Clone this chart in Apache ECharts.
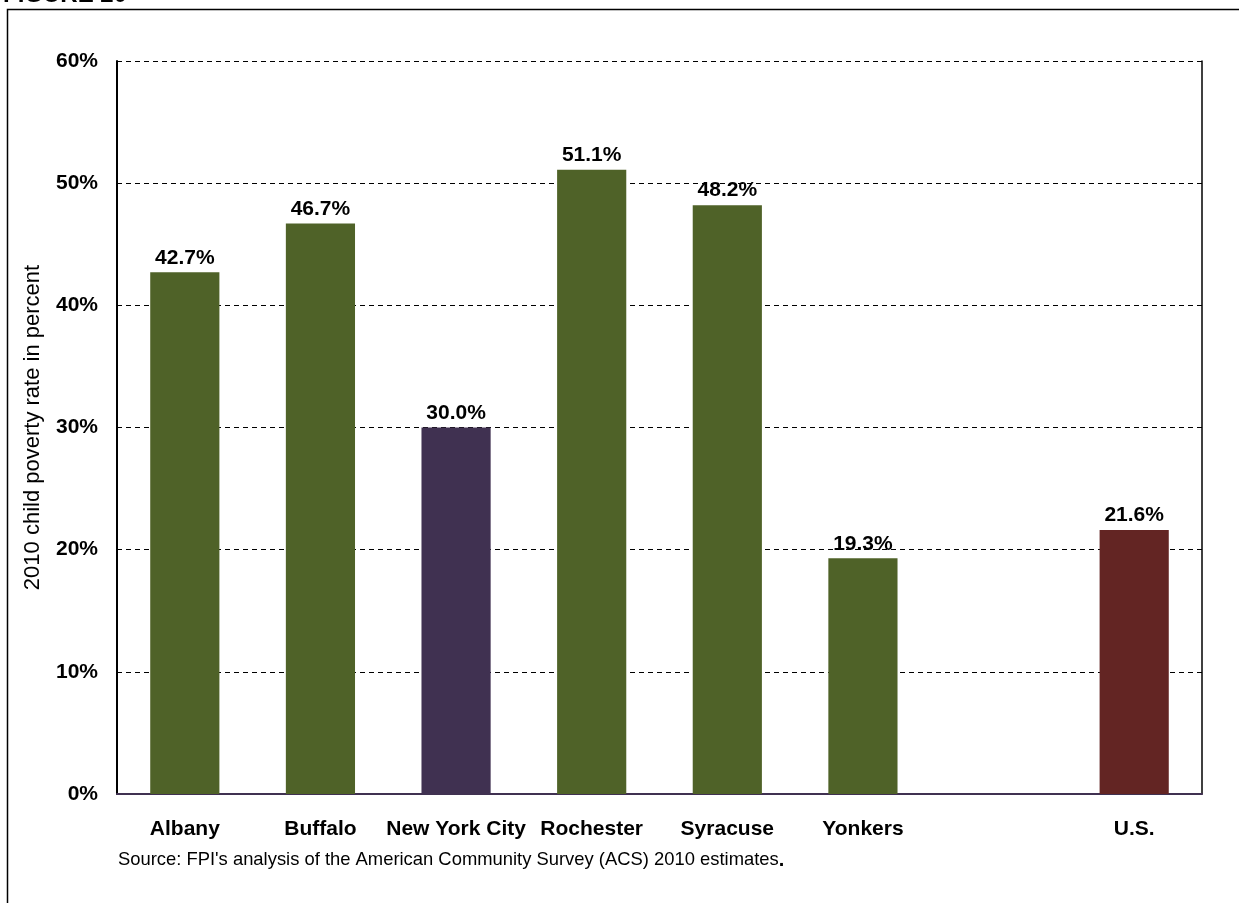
<!DOCTYPE html>
<html><head><meta charset="utf-8">
<script src="https://cdn.jsdelivr.net/npm/echarts@6/dist/echarts.min.js"></script>
<style>html,body{margin:0;padding:0;background:#fff}#c{width:1239px;height:903px}</style>
</head><body><div id="c"></div>
<script>
const categories = ['Albany','Buffalo','New York City','Rochester','Syracuse','Yonkers','','U.S.'];
const values = [42.7, 46.7, 30.0, 51.1, 48.2, 19.3, null, 21.6];
const barColors = ['#4F6228','#4F6228','#403151','#4F6228','#4F6228','#4F6228','#4F6228','#632523'];
const yTicks = [0,10,20,30,40,50,60];
const yTitle = '2010 child poverty rate in percent';
const sourceText = "Source: FPI's analysis of the American Community Survey (ACS) 2010 estimates";
const figTitle = 'FIGURE 20';

const font = 'Arial, "Liberation Sans", sans-serif';
const chart = echarts.init(document.getElementById('c'));
chart.setOption({
  animation: false,
  textStyle: {fontFamily: font},
  grid: {left: 117, right: 37, top: 61, bottom: 109, containLabel: false},
  xAxis: {
    type: 'category', data: categories,
    axisLine: {lineStyle: {color: '#403151', width: 2}},
    axisTick: {show: false},
    axisLabel: {color: '#000', fontWeight: 'bold', fontSize: 21, fontFamily: font, margin: 25, interval: 0}
  },
  yAxis: [{
    type: 'value', min: 0, max: 60, interval: 10,
    name: yTitle, nameLocation: 'middle', nameGap: 73, nameRotate: 90,
    nameTextStyle: {color: '#000', fontSize: 22, fontFamily: font},
    axisLine: {show: true, lineStyle: {color: '#000', width: 2}},
    axisTick: {show: false},
    axisLabel: {color: '#000', fontWeight: 'bold', fontSize: 21, fontFamily: font, margin: 19,
      formatter: v => yTicks.includes(v) ? v + '%' : ''},
    splitLine: {show: true, lineStyle: {color: '#000', type: [5,4], width: 1}}
  },{
    type: 'value', min: 0, max: 60, interval: 10, position: 'right',
    axisLine: {show: true, lineStyle: {color: '#000', width: 1.5}},
    axisTick: {show: false}, axisLabel: {show: false}, splitLine: {show: false}
  }],
  series: [{
    type: 'bar', barWidth: '51%',
    data: values.map((v, i) => ({value: v, itemStyle: {color: barColors[i]}})),
    label: {show: true, position: 'top', distance: 4, color: '#000', fontWeight: 'bold', fontSize: 21, fontFamily: font,
      formatter: p => p.value == null ? '' : p.value.toFixed(1) + '%'}
  }],
  graphic: [
    {type: 'rect', shape: {x: 7.5, y: 9.5, width: 1400, height: 1000}, style: {fill: 'none', stroke: '#000', lineWidth: 1.5}, z: -1},
    {type: 'text', x: 3, y: 7, style: {text: figTitle, font: 'bold 24px ' + font, fill: '#000', verticalAlign: 'bottom'}},
    {type: 'text', left: 118, top: 850, style: {
      text: '{a|' + sourceText + '}{b|.}',
      rich: {a: {font: '18.4px ' + font, fill: '#000'}, b: {font: 'bold 20px ' + font, fill: '#000'}}
    }}
  ]
});
</script></body></html>
